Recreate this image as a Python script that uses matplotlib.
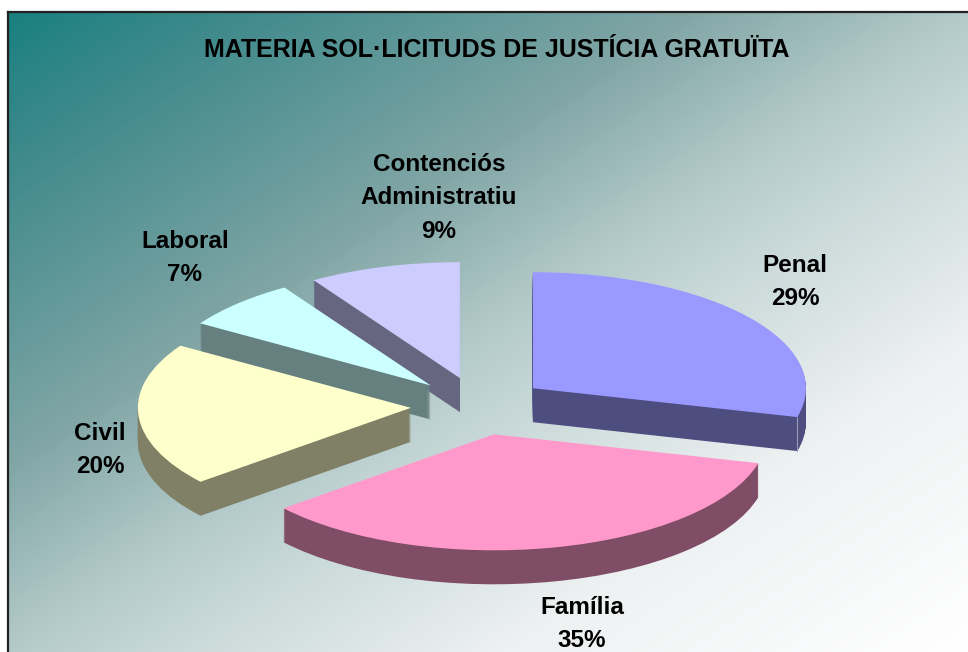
import numpy as np
import matplotlib
matplotlib.use('Agg')
import matplotlib.pyplot as plt
from matplotlib.colors import LinearSegmentedColormap

plt.rcParams['font.family'] = ['Liberation Sans', 'DejaVu Sans']

# Data
categories = ['Penal', 'Família', 'Civil', 'Laboral', 'Contenciós\nAdministratiu']
values = [29, 35, 20, 7, 9]
explode = [0.25, 0.25, 0.25, 0.25, 0.25]
title = 'MATERIA SOL·LICITUDS DE JUSTÍCIA GRATUÏTA'

# Styles
top_colors = ['#9999ff', '#ff99cc', '#ffffcc', '#ccffff', '#ccccff']
wall_colors = ['#4d4d80', '#804d66', '#808066', '#668080', '#666680']
draw_order = [3, 4, 2, 1, 0]  # Contenciós at the back, Família at the front
label_pos = [(795, 282), (582, 624), (100, 450), (185, 258), (439, 198)]

W, H = 968, 652
CX, CY = 479, 406   # pie centre, pixels
RX, RY = 273, 116   # ellipse radii, pixels
DEPTH = 34          # pie thickness, pixels

fig = plt.figure(figsize=(W / 100, H / 100), dpi=100, facecolor='white')

# Background gradient with frame on the left and top
bg = fig.add_axes([8 / W, 0, (W - 8) / W, (H - 12) / H])
gx, gy = np.meshgrid(np.linspace(0, 1, 400), np.linspace(0, 1, 300))
cmap = LinearSegmentedColormap.from_list('bg', [
    (0.0, '#1a8080'), (0.12, '#408a8c'), (0.35, '#80a5a5'), (0.5, '#b4caca'),
    (0.58, '#c8d8d8'), (0.76, '#eef1f2'), (1.0, '#ffffff')])
bg.imshow((gx + gy) / 2, cmap=cmap, vmin=0, vmax=1, aspect='auto')
bg.set_xticks([])
bg.set_yticks([])
for side in ['right', 'bottom']:
    bg.spines[side].set_visible(False)
for side in ['left', 'top']:
    bg.spines[side].set_linewidth(1.6)
    bg.spines[side].set_color('#222222')

ax = fig.add_axes([0, 0, 1, 1])
ax.patch.set_alpha(0)

# Side walls: stack of darker copies, one per pixel of depth
for k in range(DEPTH, 0, -1):
    wedges, _ = ax.pie(values, explode=explode, colors=wall_colors, startangle=90,
                       counterclock=False, center=(0, -k / RY),
                       wedgeprops={'linewidth': 0})
    for i, w in enumerate(wedges):
        w.set_zorder(2 * draw_order[i] + 1)

# Top faces
wedges, _ = ax.pie(values, explode=explode, colors=top_colors, startangle=90,
                   counterclock=False, wedgeprops={'linewidth': 0})
for i, w in enumerate(wedges):
    w.set_zorder(2 * draw_order[i] + 2)

# Light line on the Penal wall, where the cut edge meets the outer edge
end = np.deg2rad(90 - 360 * values[0] / sum(values))
mid = np.deg2rad(90 - 180 * values[0] / sum(values))
px = explode[0] * np.cos(mid) + np.cos(end)
py = explode[0] * np.sin(mid) + np.sin(end)
ax.plot([px, px], [py, py - DEPTH / RY], color='#9a9ab4', lw=0.8,
        zorder=2 * draw_order[0] + 2)

ax.set_aspect('auto')
ax.set_xlim(-CX / RX, (W - CX) / RX)
ax.set_ylim((CY - H) / RY, CY / RY)
ax.axis('off')

# Labels
for name, v, (lx, ly) in zip(categories, values, label_pos):
    fig.text(lx / W, 1 - ly / H, f'{name}\n{v}%', ha='center', va='center',
             fontsize=17.5, fontweight='bold', color='black', linespacing=1.58)

fig.text(497 / W, 1 - 50 / H, title, ha='center', va='center',
         fontsize=18, fontweight='bold', color='black')

fig.savefig('out.png', dpi=100)
